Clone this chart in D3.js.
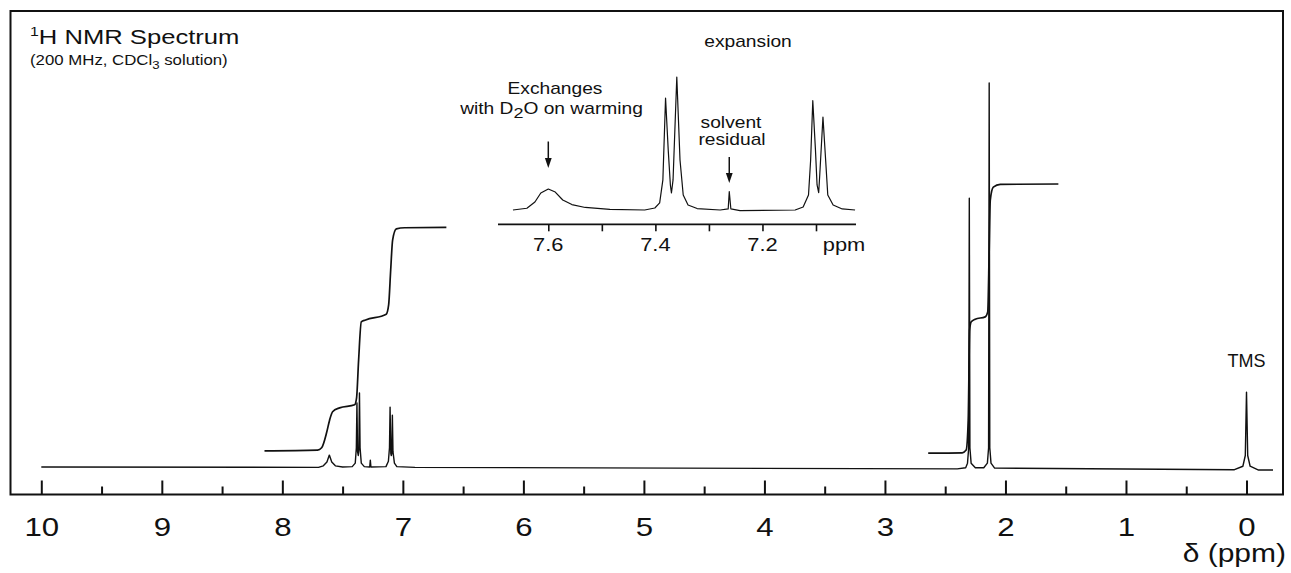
<!DOCTYPE html>
<html>
<head>
<meta charset="utf-8">
<script src="https://cdn.jsdelivr.net/npm/d3@7"></script>
<style>
  html, body { margin: 0; padding: 0; background: #fff; }
  svg { display: block; }
  text { font-family: "Liberation Sans", Arial, Helvetica, sans-serif; fill: #111; }
</style>
</head>
<body>
<svg id="chart" width="1291" height="573"></svg>
<script>
// ---------------- DATA ----------------
// main axis tick values (ppm)
const majorTicks = [10, 9, 8, 7, 6, 5, 4, 3, 2, 1, 0];
const majorTickLabels = ["10", "9", "8", "7", "6", "5", "4", "3", "2", "1", "0"];
const minorTicks = [9.5, 8.5, 7.5, 6.5, 5.5, 4.5, 3.5, 2.5, 1.5, 0.5];

// main spectrum: [ppm, relative intensity] (tallest line = 100)
const mainSpectrum = [
  [10.0, 0.0], [7.70, -0.1], [7.66, 0.3], [7.63, 1.3], [7.61, 3.1], [7.59, 1.3], [7.56, 0.3], [7.50, 0.0],
  [7.42, 0.1], [7.395, 1.0], [7.386, 5.0], [7.381, 16.7], [7.376, 4.0], [7.370, 3.0], [7.365, 4.5],
  [7.360, 19.3], [7.355, 5.0], [7.345, 1.0], [7.32, 0.1], [7.275, 0.0], [7.27, 1.8], [7.265, 0.0],
  [7.14, 0.1], [7.12, 1.5], [7.111, 5.0], [7.106, 15.6], [7.100, 3.5], [7.096, 3.0], [7.092, 3.5],
  [7.087, 13.5], [7.082, 4.0], [7.07, 1.0], [7.05, 0.1], [6.90, -0.1],
  [2.40, -0.5], [2.33, -0.2], [2.315, 1.0], [2.305, 5.0], [2.300, 70.0], [2.295, 5.0], [2.285, 1.0],
  [2.25, -0.2], [2.18, -0.2], [2.15, 1.0], [2.14, 5.0], [2.135, 100.0], [2.13, 5.0], [2.12, 1.0],
  [2.09, -0.3], [0.10, -0.7], [0.03, 0.2], [0.01, 3.0], [0.00, 19.5], [-0.01, 3.0], [-0.03, 0.2],
  [-0.10, -0.8], [-0.22, -0.8]
];

// integral traces: [ppm, level on the same intensity scale]
const integralAromatic = [
  [8.148, 4.2], [7.708, 4.4], [7.674, 5.0], [7.633, 8.9], [7.608, 12.2], [7.583, 14.4], [7.525, 15.4],
  [7.400, 16.2], [7.384, 18.0], [7.367, 27.9], [7.345, 37.8], [7.309, 38.3], [7.138, 39.8], [7.118, 42.2],
  [7.101, 51.3], [7.085, 59.1], [7.054, 62.0], [6.985, 62.3], [6.639, 62.4]
];
const integralAliphatic = [
  [2.641, 3.6], [2.359, 3.7], [2.326, 4.4], [2.309, 12.2], [2.297, 35.7], [2.284, 37.8], [2.251, 38.5],
  [2.168, 39.1], [2.147, 40.4], [2.135, 56.5], [2.126, 69.5], [2.101, 72.9], [2.043, 73.6], [1.561, 73.7]
];

// inset (expansion 7.0–7.7 ppm)
const insetTicks = [7.6, 7.5, 7.4, 7.3, 7.2, 7.1];
const insetTickLabels = [[7.6, "7.6"], [7.4, "7.4"], [7.2, "7.2"]];
const insetSpectrum = [
  [7.666, 0.0], [7.640, 1.3], [7.625, 6.0], [7.614, 12.8], [7.600, 15.8], [7.587, 13.5], [7.573, 7.5],
  [7.556, 4.1], [7.531, 1.9], [7.485, 0.4], [7.420, 0.0], [7.401, 1.5], [7.392, 5.3], [7.386, 22.6],
  [7.381, 84.2], [7.376, 45.0], [7.372, 18.8], [7.370, 12.8], [7.367, 22.6], [7.360, 100.0], [7.354, 37.6],
  [7.348, 11.3], [7.339, 3.8], [7.322, 1.1], [7.279, 0.0], [7.264, 0.8], [7.262, 13.8], [7.259, 0.8],
  [7.242, -0.5], [7.139, 0.0], [7.124, 2.3], [7.114, 11.3], [7.110, 37.6], [7.106, 82.2], [7.101, 45.0],
  [7.098, 18.8], [7.095, 13.0], [7.093, 26.3], [7.087, 69.9], [7.082, 37.6], [7.078, 11.3], [7.068, 3.8],
  [7.051, 0.8], [7.027, 0.0]
];
// annotation arrows in the inset: ppm positions
const insetArrows = [[7.600], [7.262]];

// ---------------- DRAWING ----------------
const svg = d3.select("#chart");
const ink = "#111";
const SX = 1.2; // horizontal stretch of the lettering in the reference

const frame = { left: 10.5, right: 1283, top: 11, bottom: 494.5 };

const x = d3.scaleLinear().domain([10, 0]).range([41.3, 1246.5]);
const y = d3.scaleLinear().domain([0, 100]).range([467, 83]);

const xi = d3.scaleLinear().domain([7.6, 7.1]).range([548.3, 816]);
const yi = d3.scaleLinear().domain([0, 100]).range([210, 77]);

svg.append("path")
  .attr("d", `M${frame.left},${frame.bottom} V${frame.top} H${frame.right} V${frame.bottom} Z`)
  .attr("fill", "none").attr("stroke", ink).attr("stroke-width", 2);

// main axis: major and minor ticks pointing up, labels below
const axisG = svg.append("g").attr("transform", `translate(0,${frame.bottom})`);
const majorAxis = d3.axisBottom(x).tickValues(majorTicks).tickSize(-14).tickSizeOuter(0)
  .tickFormat((d, i) => majorTickLabels[i]);
const gMaj = axisG.append("g").call(majorAxis);
gMaj.select(".domain").remove();
gMaj.selectAll(".tick line").attr("stroke", ink).attr("stroke-width", 2);
gMaj.selectAll(".tick text")
  .attr("y", null).attr("dy", null)
  .attr("transform", `translate(0,${536 - frame.bottom}) scale(${SX},1)`)
  .attr("font-size", 26).attr("fill", ink)
  .style("font-family", '"Liberation Sans", Arial, sans-serif');

const minorAxis = d3.axisBottom(x).tickValues(minorTicks).tickSize(-8).tickFormat("");
const gMin = axisG.append("g").call(minorAxis);
gMin.select(".domain").remove();
gMin.selectAll(".tick line").attr("stroke", ink).attr("stroke-width", 2);

svg.append("text")
  .attr("transform", `translate(1286,562) scale(${SX},1)`)
  .attr("text-anchor", "end").attr("font-size", 25)
  .text("δ (ppm)");

// spectrum and integrals
const line = d3.line().x(d => x(d[0])).y(d => y(d[1]));
svg.append("path").datum(mainSpectrum).attr("d", line)
  .attr("fill", "none").attr("stroke", ink).attr("stroke-width", 1.4).attr("stroke-linejoin", "round");

const iline = d3.line().x(d => x(d[0])).y(d => y(d[1])).curve(d3.curveMonotoneX);
[integralAromatic, integralAliphatic].forEach(data => {
  svg.append("path").datum(data).attr("d", iline)
    .attr("fill", "none").attr("stroke", ink).attr("stroke-width", 1.7);
});

// title
const title = svg.append("text").attr("transform", `translate(30,44) scale(1.22,1)`);
title.append("tspan").attr("font-size", 13).attr("dy", -8).text("1");
title.append("tspan").attr("font-size", 21).attr("dy", 8).text("H NMR Spectrum");

const sub = svg.append("text").attr("transform", `translate(30,65) scale(1.2,1)`).attr("font-size", 14);
sub.append("tspan").text("(200 MHz, CDCl");
sub.append("tspan").attr("font-size", 11).attr("dy", 4).text("3");
sub.append("tspan").attr("dy", -4).text(" solution)");

// TMS label
svg.append("text").attr("transform", `translate(${x(0)},366.5)`)
  .attr("text-anchor", "middle").attr("font-size", 18).text("TMS");

// ---------------- INSET ----------------
const inset = svg.append("g");
const iaxisY = 224.3;
inset.append("line").attr("x1", 498).attr("x2", 856).attr("y1", iaxisY).attr("y2", iaxisY)
  .attr("stroke", ink).attr("stroke-width", 1.7);
const iAxis = d3.axisBottom(xi).tickValues(insetTicks).tickSize(7).tickFormat("");
const gi = inset.append("g").attr("transform", `translate(0,${iaxisY})`).call(iAxis);
gi.select(".domain").remove();
gi.selectAll(".tick line").attr("stroke", ink).attr("stroke-width", 1.6);

inset.selectAll("text.itl").data(insetTickLabels).join("text").attr("class", "itl")
  .attr("transform", d => `translate(${xi(d[0])},251) scale(1.15,1)`)
  .attr("text-anchor", "middle").attr("font-size", 19).text(d => d[1]);
inset.append("text").attr("transform", `translate(844,251) scale(1.15,1)`)
  .attr("text-anchor", "middle").attr("font-size", 19).text("ppm");

const lineI = d3.line().x(d => xi(d[0])).y(d => yi(d[1]));
inset.append("path").datum(insetSpectrum).attr("d", lineI)
  .attr("fill", "none").attr("stroke", ink).attr("stroke-width", 1.2).attr("stroke-linejoin", "round");

// inset annotations
function ctext(tx, ty, size, str) {
  return inset.append("text").attr("transform", `translate(${tx},${ty}) scale(${SX},1)`)
    .attr("text-anchor", "middle").attr("font-size", size).text(str);
}
ctext(748, 46.5, 16, "expansion");
ctext(555, 94, 16, "Exchanges");
const w = inset.append("text").attr("transform", `translate(551.5,114) scale(${SX},1)`)
  .attr("text-anchor", "middle").attr("font-size", 16);
w.append("tspan").text("with D");
w.append("tspan").attr("dy", 4).attr("font-size", 15).text("2");
w.append("tspan").attr("dy", -4).text("O on warming");
ctext(731, 128.3, 16, "solvent");
ctext(732, 145, 16, "residual");

const arrowSpans = [[141.5, 168], [157, 183]];
insetArrows.forEach((a, i) => {
  const ax = xi(a[0]);
  const [y0, y1] = arrowSpans[i];
  inset.append("line").attr("x1", ax).attr("x2", ax).attr("y1", y0).attr("y2", y1 - 8)
    .attr("stroke", ink).attr("stroke-width", 1.5);
  inset.append("path").attr("d", `M${ax - 3.4},${y1 - 10} L${ax + 3.4},${y1 - 10} L${ax},${y1} Z`)
    .attr("fill", ink);
});
</script>
</body>
</html>
